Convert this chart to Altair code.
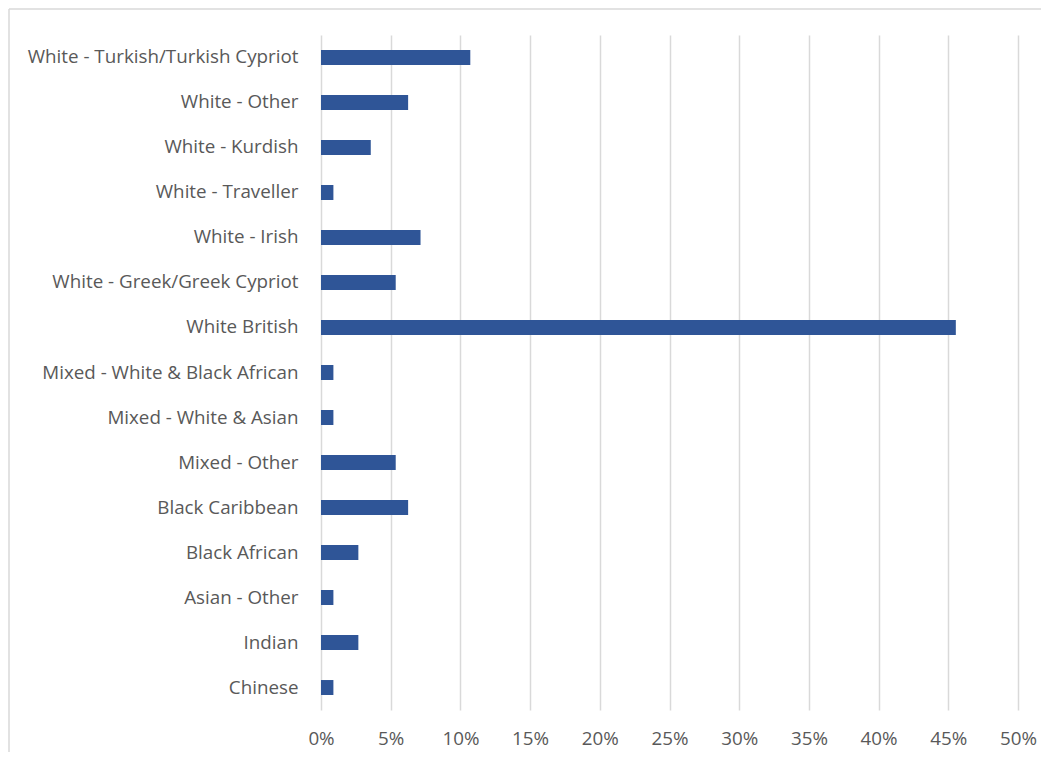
import altair as alt
import pandas as pd

categories = [
    "White - Turkish/Turkish Cypriot",
    "White - Other",
    "White - Kurdish",
    "White - Traveller",
    "White - Irish",
    "White - Greek/Greek Cypriot",
    "White British",
    "Mixed - White & Black African",
    "Mixed - White & Asian",
    "Mixed - Other",
    "Black Caribbean",
    "Black African",
    "Asian - Other",
    "Indian",
    "Chinese",
]
shares = [0.1071, 0.0625, 0.0357, 0.0089, 0.0714, 0.0536, 0.4554,
          0.0089, 0.0089, 0.0536, 0.0625, 0.0268, 0.0089, 0.0268, 0.0089]
x_ticks = [0, 0.05, 0.10, 0.15, 0.20, 0.25, 0.30, 0.35, 0.40, 0.45, 0.50]

df = pd.DataFrame({"category": categories, "share": shares})

FONT = "Open Sans"
LABEL = "#595959"
GRID = "#D9D9D9"

bars = alt.Chart(df).mark_bar(color="#2F5597").encode(
    y=alt.Y(
        "category:N",
        sort=categories,
        title=None,
        scale=alt.Scale(paddingInner=0.667, paddingOuter=0.333),
        axis=alt.Axis(domain=False, ticks=False, tickSize=0, labelPadding=23,
                      labelFont=FONT, labelFontSize=18.8, labelColor=LABEL,
                      labelLimit=400),
    ),
    x=alt.X(
        "share:Q",
        title=None,
        scale=alt.Scale(domain=[0, 0.5], nice=False),
        axis=alt.Axis(values=x_ticks, format=".0%", domain=False, ticks=False,
                      tickSize=0, labelPadding=19, labelFlush=False, grid=True,
                      gridColor=GRID, gridWidth=1.5, labelFont=FONT,
                      labelFontSize=18.8, labelColor=LABEL),
    ),
)

frame_left = alt.Chart(alt.Data(values=[{"f": 1}])).mark_rule(
    color=GRID, strokeWidth=1.5
).encode(x=alt.value(-312), y=alt.value(-26), y2=alt.value(717))

frame_top = alt.Chart(alt.Data(values=[{"f": 1}])).mark_rule(
    color=GRID, strokeWidth=1.5
).encode(x=alt.value(-312), x2=alt.value(720), y=alt.value(-26))

chart = alt.layer(bars, frame_left, frame_top).properties(
    width=697, height=675,
    padding={"left": 0, "top": 0, "right": 0, "bottom": 0},
    background="white",
).configure_view(stroke="transparent")

chart.save("out.html", embed_options={"renderer": "svg", "actions": False})
